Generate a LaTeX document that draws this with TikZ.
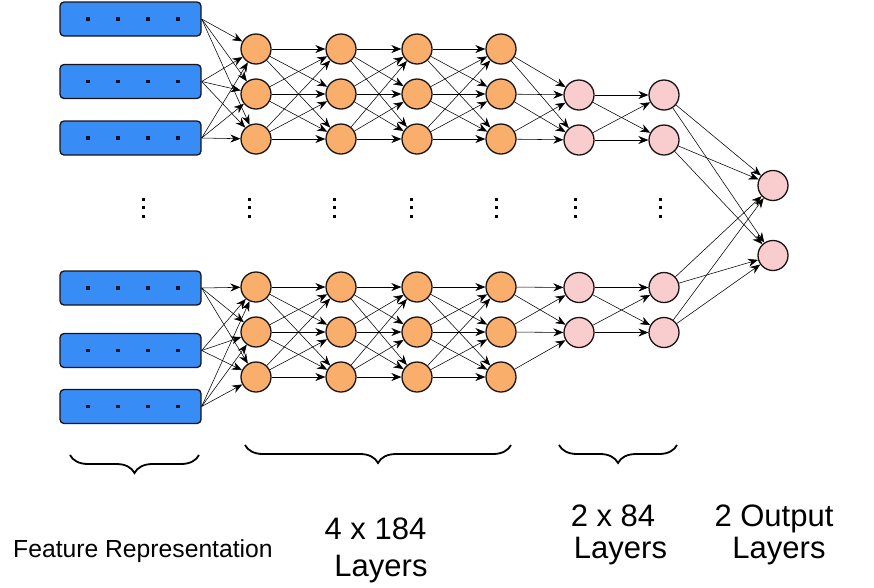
\documentclass[tikz,border=0pt]{standalone}
\usepackage{fontspec}
\setmainfont{Liberation Sans}
\usetikzlibrary{arrows.meta,decorations.pathreplacing}
\definecolor{featblue}{RGB}{56,140,246}
\definecolor{hidorange}{RGB}{250,174,108}
\definecolor{pinkfill}{RGB}{249,204,206}
\definecolor{edgeline}{RGB}{25,20,20}
\begin{document}
\begin{tikzpicture}[x=1pt,y=-1pt,
  feat/.style={draw=edgeline, line width=1.3pt, fill=featblue, rounded corners=4pt,
    minimum width=141pt, minimum height=34pt, inner sep=0pt},
  hid/.style={circle, draw=edgeline, line width=1.3pt, fill=hidorange, minimum size=30pt, inner sep=0pt},
  pnk/.style={circle, draw=edgeline, line width=1.3pt, fill=pinkfill, minimum size=30pt, inner sep=0pt},
  conn/.style={line width=0.55pt, draw=black, -{Stealth[length=10pt,width=8pt]}},
  bracestyle/.style={draw=black, line width=1.8pt, decorate,
    decoration={brace, mirror, amplitude=#1}},
  lbl/.style={align=center, anchor=base, inner sep=0pt}
]
\useasboundingbox (0,0) rectangle (874,587);

% feature rectangles
\foreach \i/\y in {1/19,2/81.5,3/138,4/288,5/350.5,6/406.5}{
  \node[feat] (r\i) at (130.5,\y) {};
  \foreach \dx in {88,118,148,178}{
    \fill[black!85!featblue] (\dx-1.7,\y-1.7) rectangle (\dx+1.7,\y+1.7);
  }
}

% hidden orange layers
\foreach \c/\x in {1/256,2/341,3/417,4/501}{
  \foreach \r/\y in {1/49,2/94,3/139,4/287,5/332,6/377}{
    \node[hid] (o-\c-\r) at (\x,\y) {};
  }
}

% pink layers
\foreach \c/\x in {1/579,2/664}{
  \foreach \r/\y in {1/95,2/140,3/287.5,4/332.5}{
    \node[pnk] (p-\c-\r) at (\x,\y) {};
  }
}

% outputs
\node[pnk] (q1) at (773,185.5) {};
\node[pnk] (q2) at (773,255.5) {};

% vertical ellipses
\foreach \x in {143.5,249,334.5,411,496,575,660}{
  \foreach \y in {199,207.5,216}{
    \fill[black] (\x-1.5,\y-1.5) rectangle (\x+1.5,\y+1.5);
  }
}

% rect -> first hidden layer
\foreach \i in {1,2,3}{\foreach \j in {1,2,3}{\draw[conn] (r\i.east) -- (o-1-\j);}}
\foreach \i in {4,5,6}{\foreach \j in {4,5,6}{\draw[conn] (r\i.east) -- (o-1-\j);}}

% hidden -> hidden
\foreach \c [evaluate=\c as \n using int(\c+1)] in {1,2,3}{
  \foreach \i in {1,2,3}{\foreach \j in {1,2,3}{\draw[conn] (o-\c-\i) -- (o-\n-\j);}}
  \foreach \i in {4,5,6}{\foreach \j in {4,5,6}{\draw[conn] (o-\c-\i) -- (o-\n-\j);}}
}

% hidden -> pink 1
\foreach \i in {1,2,3}{\foreach \j in {1,2}{\draw[conn] (o-4-\i) -- (p-1-\j);}}
\draw[conn] (o-4-4) -- (p-1-3);
\draw[conn] (o-4-4) -- (p-1-4);
\draw[conn] (o-4-5) -- (p-1-3);
\draw[conn] (o-4-5) -- (p-1-4);
\draw[conn] (o-4-6) -- (p-1-4);

% pink 1 -> pink 2
\foreach \i in {1,2}{\foreach \j in {1,2}{\draw[conn] (p-1-\i) -- (p-2-\j);}}
\foreach \i in {3,4}{\foreach \j in {3,4}{\draw[conn] (p-1-\i) -- (p-2-\j);}}

% pink 2 -> outputs
\foreach \i in {1,2,3,4}{\draw[conn] (p-2-\i) -- (q1); \draw[conn] (p-2-\i) -- (q2);}

% braces
\coordinate (b1a) at (70,455);  \coordinate (b1b) at (199,455);
\coordinate (b2a) at (245,445); \coordinate (b2b) at (511,445);
\coordinate (b3a) at (559,445); \coordinate (b3b) at (677,445);
\draw[bracestyle=18pt] (b1a) -- (b1b);
\draw[bracestyle=18pt] (b2a) -- (b2b);
\draw[bracestyle=18pt] (b3a) -- (b3b);

% labels
\node[anchor=base west, inner sep=0pt, font=\fontsize{24.7}{28}\selectfont] (lfeat) at (13,557) {Feature Representation};
\node[lbl, font=\fontsize{31}{37}\selectfont] (lhid) at (375.5,576) {4 x 184\\\hspace*{11pt}Layers};
\node[lbl, font=\fontsize{31}{31.5}\selectfont] (lpink) at (613,558) {2 x 84\\\hspace*{15pt}Layers};
\node[lbl, font=\fontsize{31}{31.5}\selectfont] (lout) at (774,558) {2 Output\\\hspace*{10pt}Layers};
\end{tikzpicture}
\end{document}
